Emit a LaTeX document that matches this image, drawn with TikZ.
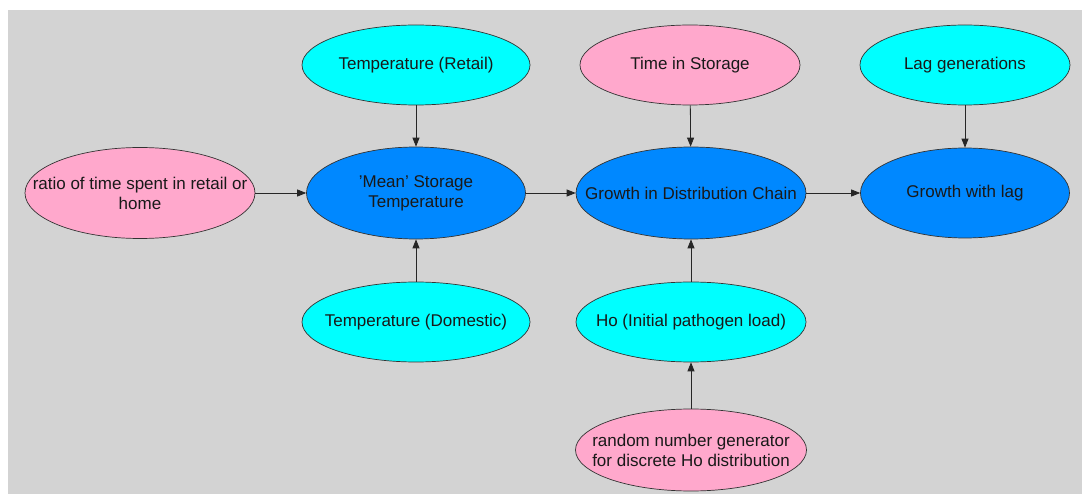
\documentclass[tikz,border=0pt]{standalone}
\usepackage{fontspec}
\setsansfont{Liberation Sans}
\usetikzlibrary{arrows.meta,shapes.geometric}

\definecolor{bgGray}{RGB}{211,211,211}
\definecolor{cyanNode}{RGB}{0,255,255}
\definecolor{pinkNode}{RGB}{255,168,204}
\definecolor{blueNode}{RGB}{0,136,255}

\tikzset{
  bubble/.style={ellipse, draw=black!80, line width=0.7pt, inner xsep=-200pt, inner ysep=-100pt,
    align=center, font=\sffamily\fontsize{17}{20}\selectfont, text=black!90},
  input/.style={bubble, fill=cyanNode},
  chance/.style={bubble, fill=pinkNode},
  calc/.style={bubble, fill=blueNode},
  link/.style={-{Triangle[length=9pt,width=7pt]}, line width=0.8pt, draw=black!85}
}

\begin{document}
\begin{tikzpicture}[x=1pt, y=-1pt]
      \useasboundingbox (0, 0) rectangle (1082, 494);
      \fill[bgGray] (8, 10) rectangle (1082, 494);

      \node[input, minimum width=228, minimum height=80] (retail) at (416, 65) {Temperature (Retail)};
      \node[chance, minimum width=220, minimum height=80] (storagetime) at (690, 65) {Time in Storage};
      \node[input, minimum width=210, minimum height=80] (laggen) at (965, 65) {Lag generations};

      \node[chance, minimum width=230, minimum height=91] (ratio) at (140, 193) {ratio of time spent in retail or\\home};
      \node[calc, minimum width=219, minimum height=92] (meantemp) at (416, 193) {\symbol{39}Mean\symbol{39} Storage\\Temperature};
      \node[calc, minimum width=230, minimum height=92] (growthchain) at (691, 193) {Growth in Distribution Chain};
      \node[calc, minimum width=209, minimum height=90] (growthlag) at (965, 193) {Growth with lag};

      \node[input, minimum width=228, minimum height=80] (domestic) at (416, 322) {Temperature (Domestic)};
      \node[input, minimum width=230, minimum height=80] (hoload) at (691, 322) {Ho (Initial pathogen load)};
      \node[chance, minimum width=231, minimum height=82] (randgen) at (691, 450) {random number generator\\for discrete Ho distribution};

      \draw[link] (retail) -- (meantemp);
      \draw[link] (domestic) -- (meantemp);
      \draw[link] (ratio) -- (meantemp);
      \draw[link] (meantemp) -- (growthchain);
      \draw[link] (storagetime) -- (growthchain);
      \draw[link] (hoload) -- (growthchain);
      \draw[link] (randgen) -- (hoload);
      \draw[link] (growthchain) -- (growthlag);
      \draw[link] (laggen) -- (growthlag);

   \end{tikzpicture}
\end{document}
